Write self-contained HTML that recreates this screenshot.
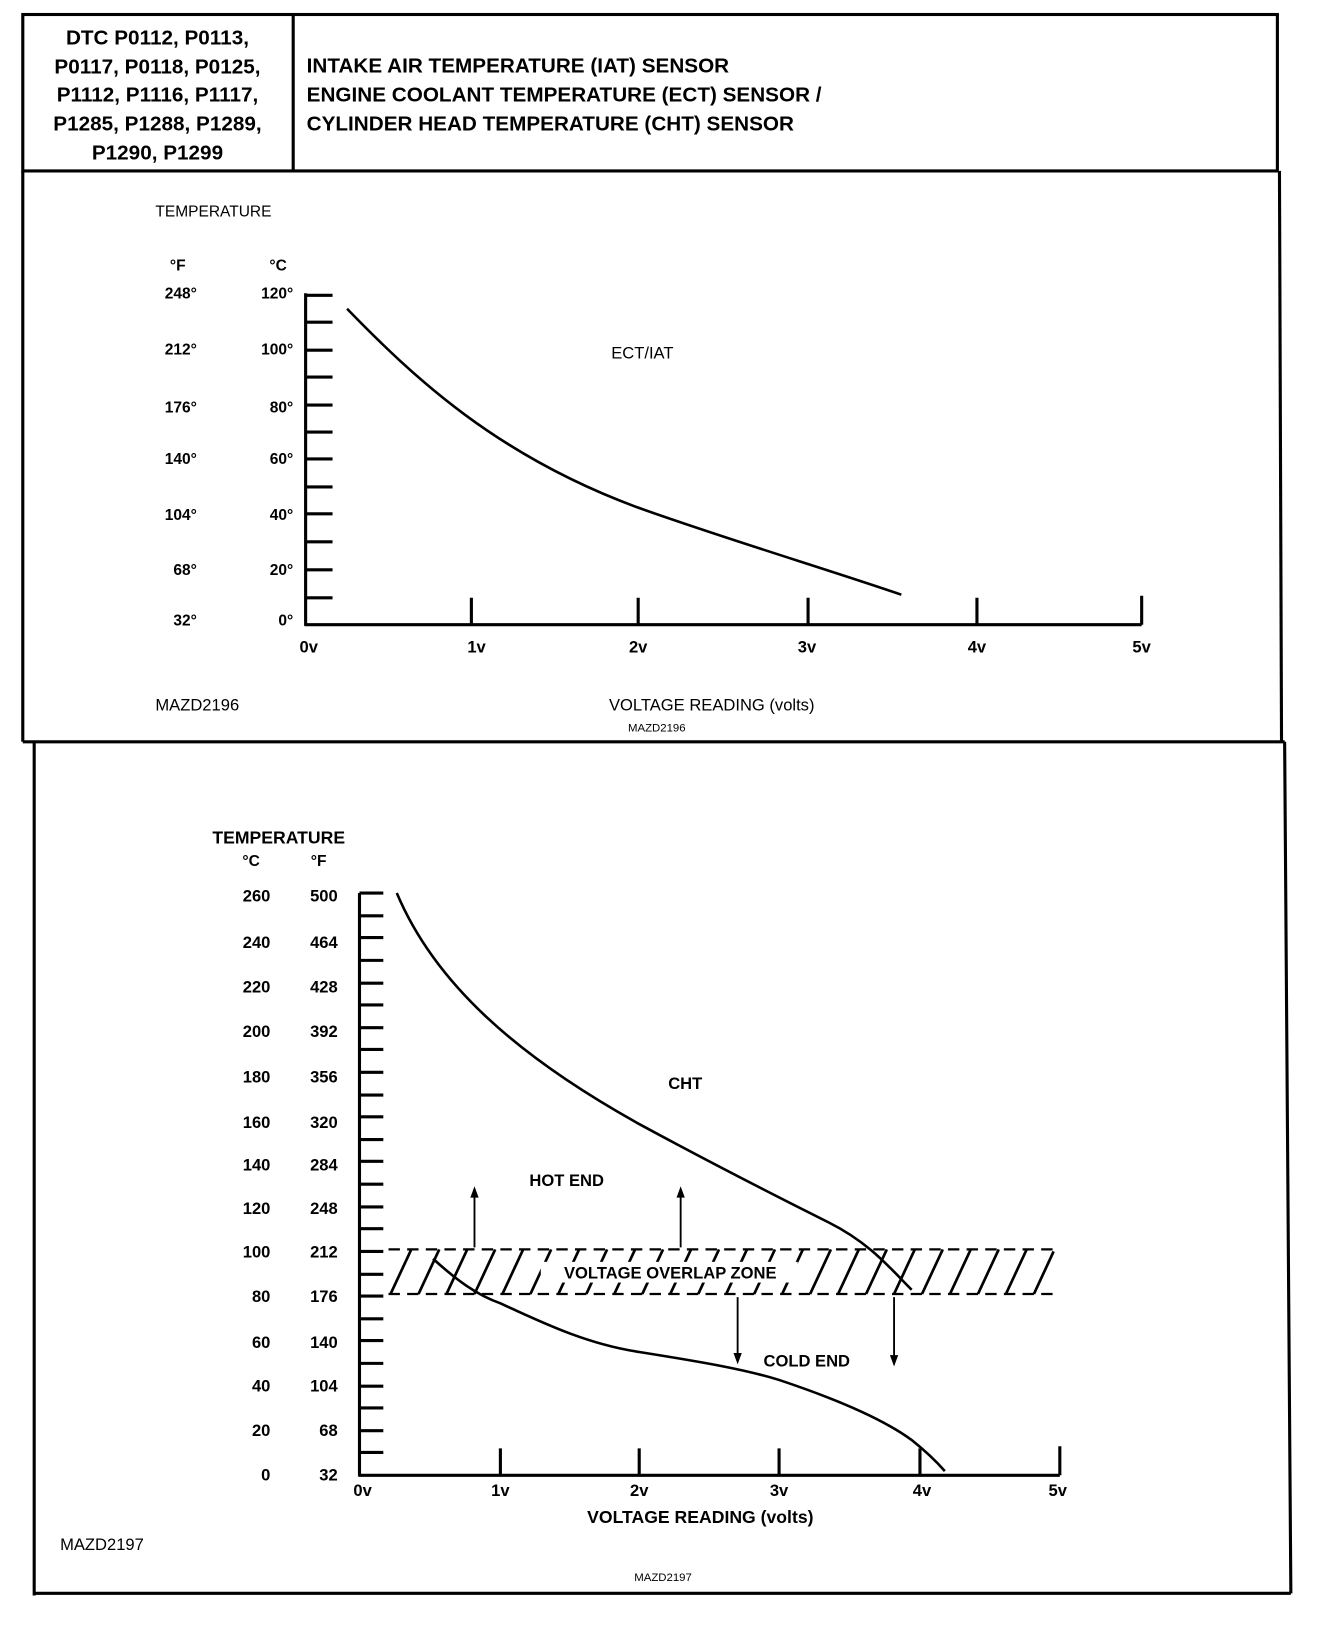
<!DOCTYPE html>
<html><head><style>
html,body{margin:0;padding:0;background:#fff}
svg{display:block}
text{font-family:"Liberation Sans",Arial,sans-serif;fill:#000}
.b{font-weight:bold}
</style></head><body>
<svg width="1344" height="1626" viewBox="0 0 1297.3 1569.5" preserveAspectRatio="none" xmlns="http://www.w3.org/2000/svg">
<g stroke="#000" stroke-width="3" fill="none">
<rect x="22" y="14" width="1211" height="151"/>
<line x1="283" y1="14" x2="283" y2="165"/>
<line x1="22" y1="165" x2="22" y2="716"/>
<line x1="1235" y1="165" x2="1237" y2="716"/>
<line x1="22" y1="716" x2="1240" y2="716"/>
<line x1="33" y1="716" x2="33" y2="1540"/>
<line x1="1240" y1="716" x2="1246" y2="1538"/>
<line x1="33" y1="1538" x2="1246" y2="1538"/>
</g>
<g class="b" font-size="20" text-anchor="middle">
<text x="152" y="43" class="b">DTC P0112, P0113,</text>
<text x="152" y="71" class="b">P0117, P0118, P0125,</text>
<text x="152" y="98" class="b">P1112, P1116, P1117,</text>
<text x="152" y="126" class="b">P1285, P1288, P1289,</text>
<text x="152" y="154" class="b">P1290, P1299</text>
</g>
<g font-size="20">
<text x="296" y="70" class="b">INTAKE AIR TEMPERATURE (IAT) SENSOR</text>
<text x="296" y="98" class="b">ENGINE COOLANT TEMPERATURE (ECT) SENSOR /</text>
<text x="296" y="126" class="b">CYLINDER HEAD TEMPERATURE (CHT) SENSOR</text>
</g>
<!-- chart 1 -->
<text x="150" y="209" font-size="15">TEMPERATURE</text>
<text x="164" y="261" font-size="15" class="b">°F</text>
<text x="260" y="261" font-size="15" class="b">°C</text>
<g font-size="15" text-anchor="end" font-weight="bold">
<text x="190" y="288">248°</text><text x="190" y="342">212°</text><text x="190" y="398">176°</text><text x="190" y="448">140°</text><text x="190" y="502">104°</text><text x="190" y="555">68°</text><text x="190" y="604">32°</text>
<text x="283" y="288">120°</text><text x="283" y="342">100°</text><text x="283" y="398">80°</text><text x="283" y="448">60°</text><text x="283" y="502">40°</text><text x="283" y="555">20°</text><text x="283" y="604">0°</text>
</g>
<g stroke="#000" stroke-width="3" fill="none">
<line x1="295" y1="283" x2="295" y2="604"/>
<line x1="294" y1="603" x2="1102" y2="603"/>
<path d="M455 603V577M616 603V577M780 603V577M943 603V577M1102 603V575"/>
<path d="M295 285H321M295 311H321M295 338H321M295 364H321M295 391H321M295 417H321M295 443H321M295 470H321M295 496H321M295 523H321M295 550H321M295 577H321"/>
<path d="M335 298 C400 365,480 440,616 490 C700 520,800 550,870 574" stroke-width="2.5"/>
</g>
<text x="590" y="346" font-size="16">ECT/IAT</text>
<g font-size="16" text-anchor="middle" font-weight="bold">
<text x="298" y="630">0v</text><text x="460" y="630">1v</text><text x="616" y="630">2v</text><text x="779" y="630">3v</text><text x="943" y="630">4v</text><text x="1102" y="630">5v</text>
</g>
<text x="687" y="686" font-size="16" text-anchor="middle">VOLTAGE READING (volts)</text>
<text x="150" y="686" font-size="16">MAZD2196</text>
<text x="634" y="706" font-size="11" text-anchor="middle">MAZD2196</text>
<!-- chart 2 -->
<text x="205" y="814" font-size="17" class="b">TEMPERATURE</text>
<text x="234" y="836" font-size="15" class="b">°C</text>
<text x="300" y="836" font-size="15" class="b">°F</text>
<g font-size="16" class="b" text-anchor="end">
<text x="261" y="870">260</text><text x="261" y="915">240</text><text x="261" y="958">220</text><text x="261" y="1001">200</text><text x="261" y="1045">180</text><text x="261" y="1089">160</text><text x="261" y="1130">140</text><text x="261" y="1172">120</text><text x="261" y="1214">100</text><text x="261" y="1257">80</text><text x="261" y="1301">60</text><text x="261" y="1343">40</text><text x="261" y="1386">20</text><text x="261" y="1429">0</text>
<text x="326" y="870">500</text><text x="326" y="915">464</text><text x="326" y="958">428</text><text x="326" y="1001">392</text><text x="326" y="1045">356</text><text x="326" y="1089">320</text><text x="326" y="1130">284</text><text x="326" y="1172">248</text><text x="326" y="1214">212</text><text x="326" y="1257">176</text><text x="326" y="1301">140</text><text x="326" y="1343">104</text><text x="326" y="1386">68</text><text x="326" y="1429">32</text>
</g>
<g stroke="#000" stroke-width="3" fill="none">
<line x1="347" y1="862" x2="347" y2="1425"/>
<line x1="346" y1="1424" x2="1023" y2="1424"/>
<path d="M483 1424V1398M617 1424V1398M752 1424V1398M888 1424V1398M1023 1424V1396"/>
<path d="M347 862H370M347 884H370M347 905H370M347 927H370M347 949H370M347 970H370M347 992H370M347 1013H370M347 1035H370M347 1057H370M347 1078H370M347 1100H370M347 1121H370M347 1143H370M347 1165H370M347 1186H370M347 1208H370M347 1230H370M347 1251H370M347 1273H370M347 1294H370M347 1316H370M347 1338H370M347 1359H370M347 1381H370M347 1402H370"/>
<path d="M383 862 C420 950,500 1020,617 1085 C700 1130,760 1160,800 1180 C840 1200,860 1225,880 1245" stroke-width="2.5"/>
<path d="M418 1215 C440 1235,460 1250,483 1258 C530 1280,570 1298,617 1305 C680 1315,720 1322,752 1332 C800 1348,850 1368,880 1390 C895 1402,905 1412,912 1420" stroke-width="2.5"/>
<g stroke-width="2.2" stroke-dasharray="11 7">
<line x1="375" y1="1206" x2="1017" y2="1206"/>
<line x1="375" y1="1249" x2="1017" y2="1249"/>
</g>
<g stroke-width="2.6">
<path d="M377 1249L397 1206M404 1249L424 1206M431 1249L451 1206M458 1249L478 1206M485 1249L505 1206M512 1249L532 1206M539 1249L559 1206M566 1249L586 1206M593 1249L613 1206M620 1249L640 1206M647 1249L667 1206M674 1249L694 1206M701 1249L721 1206M728 1249L748 1206M755 1249L775 1206M782 1249L802 1206M809 1249L829 1206M836 1249L856 1206M863 1249L883 1206M890 1249L910 1206M917 1249L937 1206M944 1249L964 1206M971 1249L991 1206M998 1249L1017 1208"/>
</g>
<g stroke-width="1.8">
<path d="M458 1204V1152M657 1204V1152M712 1252V1310M863 1252V1312"/>
</g>
</g>
<g fill="#000">
<path d="M454 1156L458 1145L462 1156Z M653 1156L657 1145L661 1156Z M708 1306L712 1317L716 1306Z M859 1308L863 1319L867 1308Z"/>
</g>
<rect x="522" y="1218" width="248" height="20" fill="#fff"/>
<g font-size="16" class="b">
<text x="647" y="1234" text-anchor="middle" class="b">VOLTAGE OVERLAP ZONE</text>
<text x="645" y="1051" class="b">CHT</text>
<text x="511" y="1145" class="b">HOT END</text>
<text x="737" y="1319" class="b">COLD END</text>
</g>
<g font-size="16" class="b" text-anchor="middle">
<text x="350" y="1444">0v</text><text x="483" y="1444">1v</text><text x="617" y="1444">2v</text><text x="752" y="1444">3v</text><text x="890" y="1444">4v</text><text x="1021" y="1444">5v</text>
<text x="676" y="1470" font-size="17">VOLTAGE READING (volts)</text>
</g>
<text x="58" y="1496" font-size="16">MAZD2197</text>
<text x="640" y="1526" font-size="11" text-anchor="middle">MAZD2197</text>
</svg>
</body></html>
